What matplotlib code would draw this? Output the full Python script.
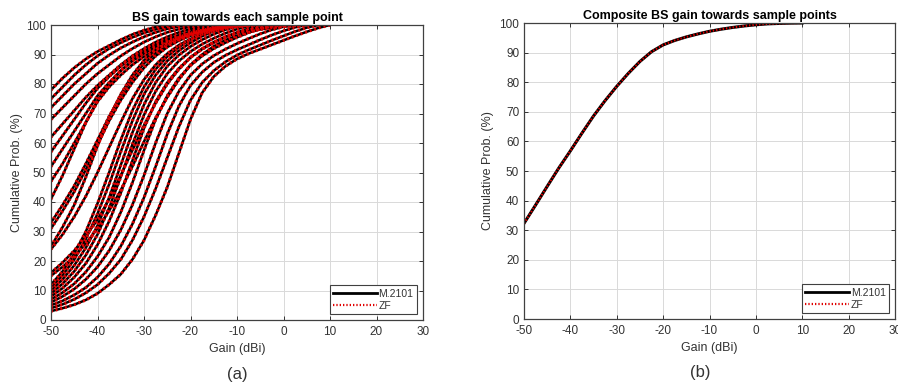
import numpy as np
import matplotlib
matplotlib.use("Agg")
import matplotlib.pyplot as plt

plt.rcParams["font.family"] = ["Liberation Sans", "DejaVu Sans"]
plt.rcParams["axes.unicode_minus"] = False

# gain grid (dBi); each curve lists its cumulative prob (%) at these gains,
# a curve stops once it reaches 100
gain = [-50, -47.5, -45, -42.5, -40, -37.5, -35, -32.5, -30, -27.5, -25, -22.5,
        -20, -17.5, -15, -12.5, -10, -7.5, -5, -2.5, 0, 2.5, 5, 7.5, 10]

# (a) one curve per sample point
cdf_top = [
    [78, 82, 85.5, 88.5, 91, 93, 95, 96.8, 98.2, 99.3, 100],
    [75, 79, 83, 86.5, 89.5, 92, 94, 95.8, 97.3, 98.5, 99.4, 100],
    [72, 76, 80, 83.5, 87, 89.8, 92.2, 94.2, 96, 97.5, 98.7, 99.5, 100],
    [68, 72, 76, 80, 83.5, 86.5, 89.5, 92, 94.2, 96, 97.5, 98.6, 99.4, 100],
    [62, 66.5, 71, 75.5, 79.5, 83, 86.5, 89.5, 92, 94.2, 96, 97.5, 98.6, 99.4, 100],
]
cdf_mid = [
    [57, 62.5, 68, 73.5, 78.5, 82.5, 86, 89, 91.5, 93.5, 95.2, 96.6, 97.8, 98.7, 99.4, 100],
    [52, 58, 64, 70, 76, 80.5, 84.5, 87.8, 90.3, 92.5, 94.3, 95.8, 97, 98, 98.8, 99.4, 100],
    [47, 53, 60, 67, 74, 79, 83, 86.5, 89.3, 91.6, 93.6, 95.2, 96.5, 97.6, 98.5, 99.2, 99.7, 100],
    [41, 49, 58, 67, 74.5, 80, 84.5, 88, 90.8, 93, 94.8, 96.2, 97.4, 98.3, 99, 99.5, 100],
    [33, 39, 45.5, 53, 61, 69, 76, 82, 87, 90.5, 93.2, 95.2, 96.8, 97.9, 98.8, 99.4, 99.8, 100],
    [31, 37, 43.5, 51, 59.5, 67.5, 74.5, 80.5, 85.5, 89.5, 92.5, 94.7, 96.4, 97.7, 98.6, 99.3, 99.8, 100],
    [25, 31.5, 39, 48.5, 59, 68.5, 76.5, 83, 88, 91.5, 94, 95.8, 97.2, 98.2, 99, 99.5, 99.9, 100],
    [24, 29, 35, 42, 50, 58.5, 67, 75, 81.5, 86.5, 90.3, 93.2, 95.3, 96.9, 98, 98.9, 99.5, 99.9, 100],
    [16, 19.5, 23.5, 28.5, 34, 41, 49, 57.5, 66, 73.5, 80, 85, 89, 92, 94.2, 96, 97.3, 98.3, 99,
     99.5, 99.8, 100],
    [15, 18, 21.5, 26, 31, 37, 44, 52, 60.5, 68.5, 75.5, 81.5, 86.5, 90, 92.8, 94.9, 96.4, 97.6,
     98.5, 99.1, 99.5, 99.8, 100],
]
cdf_low = [
    [3, 4, 5.2, 6.8, 9, 12, 15.5, 20.5, 27, 35.5, 45, 56.5, 68, 77, 82.5, 86, 88.5, 90.3, 91.8,
     93.3, 94.8, 96.3, 97.7, 99, 100],
    [4, 5.3, 7, 9.2, 12, 15.8, 20.5, 27, 35, 44.5, 55, 65.5, 74.5, 80.5, 84.5, 87.5, 89.8, 91.6,
     93.2, 94.8, 96.3, 97.8, 99.1, 100],
    [5, 6.5, 8.5, 11, 14.5, 19, 25, 32.5, 41.5, 52, 63, 72.5, 79.5, 84, 87.3, 89.7, 91.6, 93.3,
     95, 96.6, 98, 99.2, 100],
    [6, 8, 10.5, 13.8, 18, 23.5, 30.5, 39, 49, 60, 70, 77.5, 83, 86.8, 89.6, 91.8, 93.7, 95.4,
     97, 98.4, 99.4, 100],
    [7, 9.3, 12.3, 16.3, 21.5, 28, 36.5, 46.5, 57.5, 68, 76, 82, 86.3, 89.5, 92, 94, 95.8, 97.4,
     98.7, 99.6, 100],
    [8, 10.8, 14.5, 19.2, 25.5, 33.5, 43, 54, 65, 74, 80.5, 85.3, 89, 91.8, 94, 95.9, 97.5, 98.8,
     99.7, 100],
    [9, 12.3, 16.5, 22, 29, 38, 48.5, 59.5, 69.5, 77.5, 83.5, 87.8, 91, 93.5, 95.5, 97.2, 98.6,
     99.6, 100],
    [10, 13.8, 18.5, 24.5, 32, 41.5, 52.5, 63.5, 73, 80.5, 86, 89.8, 92.7, 95, 96.9, 98.4, 99.5, 100],
    [11, 15.2, 20.5, 27.5, 36, 46, 57, 67.5, 76.5, 83, 87.8, 91.3, 94, 96.2, 97.9, 99.1, 100],
    [12, 16.5, 22.5, 30, 39.5, 50, 61, 71, 79, 85, 89.3, 92.5, 95, 97, 98.5, 99.5, 100],
]

# (b) composite CDF
cdf_comp = [32.3, 38.5, 44.8, 51, 56.8, 62.8, 68.6, 73.8, 78.6, 83, 87, 90.3, 92.6, 94.1,
            95.3, 96.3, 97.2, 97.9, 98.5, 99, 99.4, 99.7, 99.85, 99.95, 100]

W, H = 898, 387
fig = plt.figure(figsize=(W / 100, H / 100), dpi=100)
axa = fig.add_axes([51 / W, 1 - 320 / H, 372 / W, 295 / H])
axb = fig.add_axes([524 / W, 1 - 319 / H, 371 / W, 296 / H])

EDGE = "#404040"
RED = "#e00000"
DOT = (0, (0.6, 0.9))


def style(ax, title, ylab_x):
    ax.set_xlim(-50, 30)
    ax.set_ylim(0, 100)
    ax.set_xticks(np.arange(-50, 31, 10))
    ax.set_yticks(np.arange(0, 101, 10))
    ax.grid(True, color="#d9d9d9", lw=0.7)
    ax.set_axisbelow(True)
    ax.tick_params(direction="in", top=True, right=True, labelsize=8.5,
                   colors="#333333", length=3, width=0.7)
    ax.tick_params(axis="x", pad=4.5)
    for s in ax.spines.values():
        s.set_color(EDGE)
        s.set_linewidth(0.9)
    ax.set_xlabel("Gain (dBi)", fontsize=9, color="#333333")
    ax.set_ylabel("Cumulative Prob. (%)", fontsize=9, color="#333333")
    ax.xaxis.set_label_coords(0.5, -0.078)
    ax.yaxis.set_label_coords(ylab_x, 0.5)
    ax.set_title(title, fontsize=9, fontweight="bold", pad=3)


curves = cdf_top + cdf_mid + cdf_low
for c in curves:
    axa.plot(gain[:len(c)], c, color="black", lw=1.8, solid_capstyle="butt")
for c in curves:
    axa.plot(gain[:len(c)], c, color=RED, lw=2.3, ls=DOT)
style(axa, "BS gain towards each sample point", -0.075)

axb.plot(gain, cdf_comp, color="black", lw=2.2)
axb.plot(gain, cdf_comp, color=RED, lw=1.6, ls=DOT)
style(axb, "Composite BS gain towards sample points", -0.081)

for ax in (axa, axb):
    h1, = ax.plot([], [], color="black", lw=2.0)
    h2, = ax.plot([], [], color=RED, lw=1.6, ls=DOT)
    leg = ax.legend([h1, h2], ["M.2101", "ZF"], loc="lower right", fontsize=7.5,
                    fancybox=False, framealpha=1, edgecolor=EDGE, handlelength=4.2,
                    handletextpad=0.2, borderpad=0.3, labelspacing=0.2,
                    borderaxespad=0.6)
    leg.get_frame().set_linewidth(0.8)
    for t in leg.get_texts():
        t.set_color("#333333")

fig.text(237 / W, 1 - 374 / H, "(a)", fontsize=12, ha="center", va="center", color="#333333")
fig.text(700 / W, 1 - 373 / H, "(b)", fontsize=12, ha="center", va="center", color="#333333")

fig.savefig("out.png", dpi=100)
